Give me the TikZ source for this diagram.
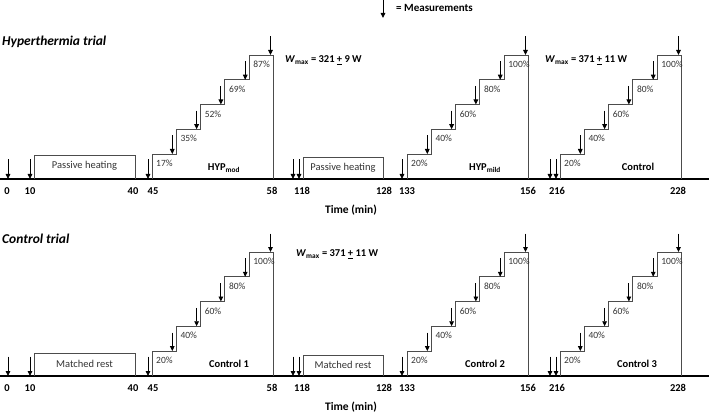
\documentclass[tikz,border=0pt]{standalone}
\usepackage{fontspec}
\setmainfont{Carlito}
\usetikzlibrary{arrows.meta}
\tikzset{
  meas/.style={-{Triangle[width=4.6pt,length=5pt]}, line width=0.9pt, black},
  stepline/.style={draw=black!70, line width=0.9pt},
  axisline/.style={line width=1.2pt, black},
  pct/.style={font=\fontsize{9.5}{10}\selectfont, text=black!80, anchor=west, inner sep=0pt},
  tick/.style={font=\bfseries\fontsize{10.5}{12}\selectfont, inner sep=0pt},
  blk/.style={font=\bfseries\fontsize{10.5}{12}\selectfont, inner sep=0pt},
  boxtxt/.style={font=\fontsize{10.5}{12}\selectfont, text=black!80, inner sep=0pt},
  trialtitle/.style={font=\bfseries\itshape\fontsize{13.5}{16}\selectfont, anchor=west, inner sep=0pt},
  wmax/.style={font=\bfseries\fontsize{10.5}{12}\selectfont, anchor=west, inner sep=0pt},
  timelab/.style={font=\bfseries\fontsize{11.5}{13}\selectfont, inner sep=0pt},
}
% #1 x0, #2 axis y, #3 list of 5 labels
\newcommand\mstairs[3]{%
  \draw[stepline] (#1,#2) -- ++(0,-25) -- ++(24.3,0) -- ++(0,-24.75) -- ++(24.3,0)
     -- ++(0,-24.75) -- ++(24.3,0) -- ++(0,-24.75) -- ++(24.3,0) -- ++(0,-24.75)
     -- ++(24.3,0) -- ++(0,124);
  \foreach \lab [count=\k from 0] in {#3} {
    \pgfmathsetmacro\ty{#2-25-24.75*\k}
    \pgfmathsetmacro\tx{#1+24.3*\k}
    \pgfmathsetmacro\ax{#1+24.3*(\k+1)-4+(\k==4)}
    \node[pct] (p\k) at (\tx+4,\ty+9.5) {\lab};
    \coordinate (mt\k) at (\ax,\ty-18.5);
    \coordinate (mb\k) at (\ax,\ty);
    \draw[meas] (mt\k) -- (mb\k);
  }
}
% #1 x, #2 axis y
\newcommand\marrow[2]{%
  \coordinate (at) at (#1,#2-19.5);
  \coordinate (ab) at (#1,#2);
  \draw[meas] (at) -- (ab);
}
\begin{document}
\begin{tikzpicture}[x=1pt,y=-1pt]
\useasboundingbox (0,0) rectangle (709,414);

% legend
\coordinate (lgt) at (383,0.5);
\coordinate (lgb) at (383,18);
\draw[meas] (lgt) -- (lgb);
\node[font=\bfseries\fontsize{11}{13}\selectfont, anchor=west, inner sep=0pt] (leg) at (396,8) {= Measurements};

% ---------------- Hyperthermia trial ----------------
\node[trialtitle] (t1) at (2,42) {Hyperthermia trial};
\draw[axisline] (0,179) -- (709,179);
\foreach \x/\t in {7/0,30/10,133/40,153/45,272/58,302/118,384/128,407/133,528/156,557/216,678/228}
  \node[tick] at (\x,191) {\t};
\node[timelab] (time1) at (351,210) {Time (min)};

\draw[stepline] (34,179) |- (135,155) -- (135,179);
\node[boxtxt] (bx1) at (84.5,166) {Passive heating};
\draw[stepline] (303,179) |- (383,157) -- (383,179);
\node[boxtxt] (bx2) at (343,167.5) {Passive heating};

\foreach \x in {8,30,148,293,299,402,550,556} { \marrow{\x}{179} }

\mstairs{152}{179}{17\%,35\%,52\%,69\%,87\%}
\mstairs{407}{179}{20\%,40\%,60\%,80\%,100\%}
\mstairs{560}{179}{20\%,40\%,60\%,80\%,100\%}

\node[blk] (h1) at (224,168) {HYP\textsubscript{mod}};
\node[blk] (h2) at (485,168) {HYP\textsubscript{mild}};
\node[blk] (h3) at (638,167) {Control};

\node[wmax] (w1) at (285,60) {\textit{W}\textsubscript{max} = 321 \underline{+} 9 W};
\node[wmax] (w2) at (545,60) {\textit{W}\textsubscript{max} = 371 \underline{+} 11 W};

% ---------------- Control trial ----------------
\node[trialtitle] (t2) at (2,239) {Control trial};
\draw[axisline] (0,376) -- (709,376);
\foreach \x/\t in {7/0,30/10,133/40,153/45,272/58,302/118,384/128,407/133,528/156,557/216,678/228}
  \node[tick] at (\x,388) {\t};
\node[timelab] (time2) at (351,407) {Time (min)};

\draw[stepline] (34,376) |- (135,353) -- (135,376);
\node[boxtxt] (bx3) at (84.5,364) {Matched rest};
\draw[stepline] (303,376) |- (383,355) -- (383,376);
\node[boxtxt] (bx4) at (343,365) {Matched rest};

\foreach \x in {8,30,148,293,299,402,550,556} { \marrow{\x}{376} }

\mstairs{152}{376}{20\%,40\%,60\%,80\%,100\%}
\mstairs{407}{376}{20\%,40\%,60\%,80\%,100\%}
\mstairs{560}{376}{20\%,40\%,60\%,80\%,100\%}

\node[blk] (c1) at (229,364) {Control 1};
\node[blk] (c2) at (485,364) {Control 2};
\node[blk] (c3) at (637,364) {Control 3};

\node[wmax] (w3) at (296,254) {\textit{W}\textsubscript{max} = 371 \underline{+} 11 W};
\end{tikzpicture}
\end{document}
